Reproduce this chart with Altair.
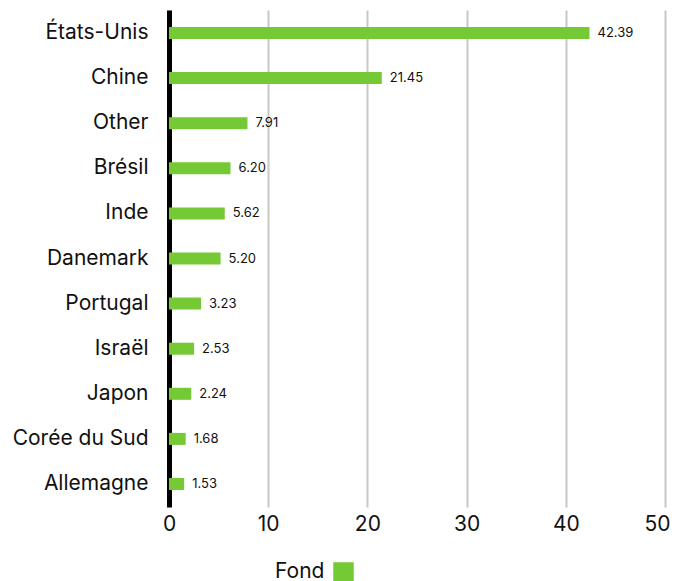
import altair as alt
import pandas as pd

countries = ["États-Unis", "Chine", "Other", "Brésil", "Inde", "Danemark",
             "Portugal", "Israël", "Japon", "Corée du Sud", "Allemagne"]
values = [42.39, 21.45, 7.91, 6.20, 5.62, 5.20, 3.23, 2.53, 2.24, 1.68, 1.53]
series = ["Fond"] * len(countries)
x_ticks = [0, 10, 20, 30, 40, 50]

df = pd.DataFrame({"pays": countries, "valeur": values, "serie": series})
df["label"] = [f"{v:.2f}" for v in values]

FONT = "Inter"
GREEN = "#74C935"

y_enc = alt.Y("pays:N", sort=countries, title=None,
              scale=alt.Scale(paddingInner=0.73, paddingOuter=0.375),
              axis=alt.Axis(domainColor="#000000", domainWidth=5, ticks=False,
                            labelPadding=21, labelFontSize=21, labelColor="#111111",
                            labelFont=FONT, grid=False))

x_enc = alt.X("valeur:Q", title=None,
              scale=alt.Scale(domain=[0, 50], nice=False),
              axis=alt.Axis(values=x_ticks, domain=False, ticks=False,
                            grid=True, gridColor="#c8c8c8", gridWidth=2,
                            labelFontSize=21, labelColor="#111111", labelFont=FONT,
                            labelPadding=6, labelFlush=False,
                            labelOffset={"condition": {"test": "datum.value == 50", "value": -8},
                                         "value": 0}))

bars = alt.Chart(df).mark_bar(height=12).encode(
    x=x_enc,
    y=y_enc,
    color=alt.Color("serie:N", scale=alt.Scale(range=[GREEN]),
                    legend=alt.Legend(title="Fond", titleOrient="left",
                                      labelExpr="''", orient="none",
                                      legendX=106, legendY=552,
                                      symbolType="square", symbolSize=420,
                                      symbolStrokeWidth=0, titleFontSize=21,
                                      titleFontWeight="normal", titleFont=FONT,
                                      titleColor="#111111", titlePadding=8,
                                      titleBaseline="middle")),
)

text = alt.Chart(df).mark_text(align="left", dx=8, fontSize=13, font=FONT,
                               color="#111111").encode(
    x="valeur:Q",
    y=alt.Y("pays:N", sort=countries),
    text="label:N",
)

chart = (bars + text).properties(
    width=496, height=497,
    autosize=alt.AutoSizeParams(type="none"),
    padding={"left": 161, "top": 2, "right": 6, "bottom": 80},
).configure_view(stroke=None)

chart.save("out.html", embed_options={"renderer": "svg", "actions": False})
